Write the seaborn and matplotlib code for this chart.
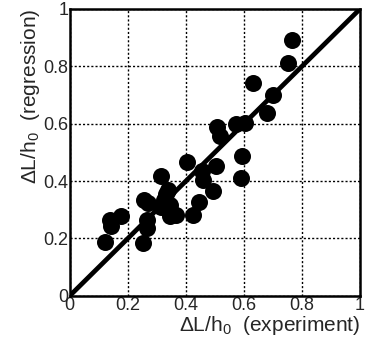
import matplotlib
matplotlib.use("Agg")
import matplotlib.pyplot as plt
import seaborn as sns
import pandas as pd

experiment = [0.766, 0.753, 0.633, 0.700, 0.679, 0.574, 0.605, 0.509, 0.516, 0.594,
              0.591, 0.505, 0.403, 0.456, 0.459, 0.493, 0.445, 0.424, 0.315, 0.338,
              0.326, 0.344, 0.315, 0.367, 0.344, 0.257, 0.269, 0.266, 0.266, 0.252,
              0.177, 0.137, 0.143, 0.123, 0.330]
regression = [0.891, 0.812, 0.742, 0.701, 0.637, 0.600, 0.602, 0.588, 0.556, 0.486,
              0.410, 0.451, 0.465, 0.434, 0.405, 0.364, 0.327, 0.283, 0.419, 0.370,
              0.335, 0.317, 0.310, 0.283, 0.277, 0.335, 0.323, 0.265, 0.236, 0.184,
              0.277, 0.265, 0.242, 0.186, 0.355]
ticks = [0, 0.2, 0.4, 0.6, 0.8, 1]
tick_labels = ["0", "0.2", "0.4", "0.6", "0.8", "1"]

df = pd.DataFrame({"experiment": experiment, "regression": regression})

sns.set_style("white")
plt.rcParams['font.family'] = ['Liberation Sans', 'DejaVu Sans']
plt.rcParams['mathtext.fontset'] = 'custom'
plt.rcParams['mathtext.rm'] = 'Liberation Sans'
plt.rcParams['mathtext.it'] = 'Liberation Sans'

fig = plt.figure(figsize=(3.67, 3.44), dpi=100)
ax = fig.add_axes([0.19, 0.14, 0.791, 0.834])

sns.lineplot(x=[0, 1], y=[0, 1], ax=ax, color="black", linewidth=3.4, zorder=3)
sns.scatterplot(data=df, x="experiment", y="regression", ax=ax, color="black",
                s=150, edgecolor="black", linewidth=0, zorder=4)

ax.set_xlim(0, 1)
ax.set_ylim(0, 1)
ax.set_xticks(ticks)
ax.set_yticks(ticks)
ax.set_xticklabels(tick_labels, fontsize=13)
ax.set_yticklabels(tick_labels, fontsize=13)
ax.tick_params(axis="x", length=0, pad=1)
ax.tick_params(axis="y", length=0, pad=1)
ax.grid(True, color="black", linestyle=(0, (1.5, 1.5)), linewidth=1.0)
ax.set_axisbelow(True)
for sp in ax.spines.values():
    sp.set_color("black")
    sp.set_linewidth(1.8)
ax.set_xlabel(r"$\Delta$L/h$_0$  (experiment)", fontsize=15, labelpad=0, loc="right")
ax.set_ylabel(r"$\Delta$L/h$_0$  (regression)", fontsize=15, labelpad=1, loc="top")

fig.savefig("out.png", dpi=100)
